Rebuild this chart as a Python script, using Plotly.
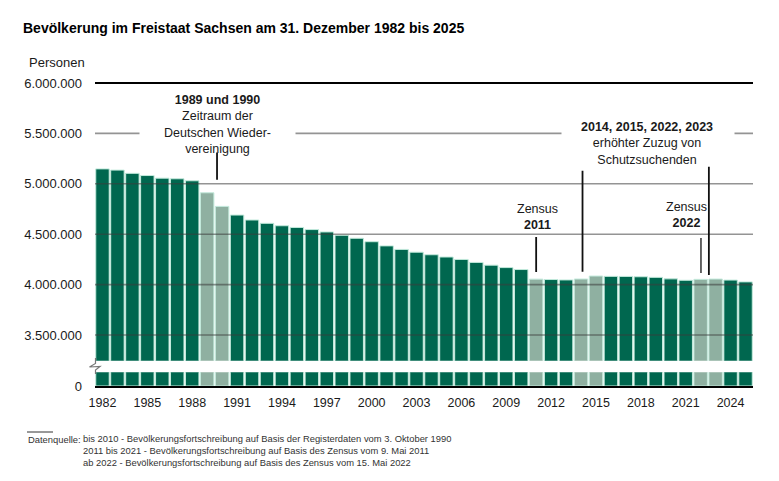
import plotly.graph_objects as go

# ---------------- data ----------------
years = list(range(1982, 2026))
population = [
    5148000, 5136000, 5104000, 5082000, 5056000, 5050000, 5030000,   # 1982-1988
    4911000, 4776000,                                                # 1989-1990
    4690000, 4641000, 4608000, 4584000, 4567000, 4546000,            # 1991-1996
    4522412, 4489415, 4459686, 4425581, 4384192, 4349059, 4321437,   # 1997-2003
    4296284, 4273754, 4249774, 4220200, 4192801, 4168732, 4149477,   # 2004-2010
    4054182, 4050204, 4046385, 4055274, 4084851, 4081783, 4081308,   # 2011-2017
    4077937, 4071971, 4056941, 4043002, 4052000, 4055000, 4045000,   # 2018-2024
    4027000,                                                         # 2025
]
highlight_years = [1989, 1990, 2011, 2014, 2015, 2022, 2023]
x_tick_years = list(range(1982, 2025, 3))
y_ticks_upper = [3500000, 4000000, 4500000, 5000000, 5500000, 6000000]
y_ticks_lower = [0]

title_text = "Bevölkerung im Freistaat Sachsen am 31. Dezember 1982 bis 2025"
unit_text = "Personen"
source_label = "Datenquelle:"
source_lines = [
    "bis 2010 - Bevölkerungsfortschreibung auf Basis der Registerdaten vom 3. Oktober 1990",
    "2011 bis 2021 - Bevölkerungsfortschreibung auf Basis des Zensus vom 9. Mai 2011",
    "ab 2022 - Bevölkerungsfortschreibung auf Basis des Zensus vom 15. Mai 2022",
]

# ---------------- style ----------------
DARK = "#00674f"
LIGHT = "#8fb0a1"
EDGE = "#c3eadc"
FONT = "Arial, Liberation Sans, sans-serif"
W, H = 779, 481
OFF = 8  # page offset of the figure in the browser window
# target plot area in window pixels: x 95..753, y 81..386
ML = 95 - OFF
MT = 81 - OFF
PW = 658
PH = 386 - 81
MR = W - ML - PW
MB = H - MT - PH

def px_to_paper(px, py):
    fx, fy = px - OFF, py - OFF
    return (fx - ML) / PW, (H - MB - fy) / PH

colors = [LIGHT if y in highlight_years else DARK for y in years]

def fmt(v):
    return f"{v:,}".replace(",", ".")

fig = go.Figure()
for ya in ["y", "y2"]:
    fig.add_trace(go.Bar(
        x=years, y=population, xaxis="x", yaxis=ya,
        marker=dict(color=colors, line=dict(color=EDGE, width=1)),
        hoverinfo="x+y", showlegend=False,
    ))

upper_bottom = px_to_paper(0, 360.7)[1]
lower_top = px_to_paper(0, 372.3)[1]

fig.update_layout(
    width=W, height=H,
    margin=dict(l=ML, r=MR, t=MT, b=MB),
    paper_bgcolor="white", plot_bgcolor="white",
    font=dict(family=FONT, size=12.5, color="#1a1a1a"),
    bargap=0.1,
    xaxis=dict(
        anchor="y2", range=[1981.5, 2025.5],
        tickvals=x_tick_years, ticktext=[str(v) for v in x_tick_years],
        showgrid=False, zeroline=False, showline=True, linecolor="black", linewidth=2,
        ticks="", ticklabelstandoff=4, tickfont=dict(size=12.5),
    ),
    yaxis=dict(
        domain=[upper_bottom, 1], range=[3245000, 6020000],
        tickvals=y_ticks_upper, ticktext=[fmt(v) for v in y_ticks_upper],
        showgrid=False, zeroline=False, showline=False, ticks="",
        ticklabelstandoff=12, tickfont=dict(size=13),
    ),
    yaxis2=dict(
        domain=[0, lower_top], range=[0, 140000],
        tickvals=y_ticks_lower, ticktext=[fmt(v) for v in y_ticks_lower],
        showgrid=False, zeroline=False, showline=False, ticks="",
        ticklabelstandoff=12, tickfont=dict(size=13),
    ),
)

shapes = []
# gridlines drawn above the bars (as in the reference)
for v in y_ticks_upper:
    top = v == max(y_ticks_upper)
    shapes.append(dict(
        type="line", xref="paper", yref="y", x0=0, x1=1, y0=v, y1=v,
        layer="above",
        line=dict(color="black" if top else "rgba(60,60,60,0.55)", width=2 if top else 1.6),
    ))

# leader lines of the annotations: (x, y_from, y_to, colour)
leader_lines = [
    (1989.66, 5040000, 5310000, "#111111"),
    (2011.0, 4125000, 4472000, "#111111"),
    (2014.1, 4128000, 5130000, "#111111"),
    (2022.02, 4115000, 4462000, "#555555"),
    (2022.55, 4095000, 5170000, "#111111"),
]
for lx, y0, y1, c in leader_lines:
    shapes.append(dict(type="line", xref="x", yref="y", x0=lx, x1=lx, y0=y0, y1=y1,
                       layer="above", line=dict(color=c, width=1.8)))

# axis break symbol
pts = [(95.5, 358), (95.5, 363.5), (89.5, 367), (100, 366.5), (95.5, 370), (95.5, 374)]
pp = [px_to_paper(a, b) for a, b in pts]
path = "M " + " L ".join(f"{a:.5f},{b:.5f}" for a, b in pp)
shapes.append(dict(type="path", xref="paper", yref="paper", path=path,
                   line=dict(color="#777777", width=1.2), layer="above"))
# footnote rule
fx0, fy = px_to_paper(27, 432)
fx1, _ = px_to_paper(53, 432)
shapes.append(dict(type="line", xref="paper", yref="paper", x0=fx0, x1=fx1, y0=fy, y1=fy,
                   line=dict(color="#333333", width=1)))
fig.update_layout(shapes=shapes)

ann = []
# white gaps in 5.5 Mio gridline behind annotation blocks
for gx, gw in [(1989.69, 155), (2018.48, 172)]:
    ann.append(dict(xref="x", yref="y", x=gx, y=5500000, text=" ", showarrow=False,
                    bgcolor="white", width=gw, height=6, borderpad=0))

ann.append(dict(xref="x", yref="y", x=1989.69, y=5588000, showarrow=False,
                text="<b>1989 und 1990</b><br>Zeitraum der<br>Deutschen Wieder-<br>vereinigung",
                font=dict(size=12.5), align="center", yanchor="middle"))
ann.append(dict(xref="x", yref="y", x=2011.12, y=4671000, showarrow=False,
                text="Zensus<br><b>2011</b>", font=dict(size=12.5), align="center", yanchor="middle"))
ann.append(dict(xref="x", yref="y", x=2021.02, y=4686000, showarrow=False,
                text="Zensus<br><b>2022</b>", font=dict(size=12.5), align="center", yanchor="middle"))
ann.append(dict(xref="x", yref="y", x=2018.41, y=5400000, showarrow=False,
                text="<b>2014, 2015, 2022, 2023</b><br>erhöhter Zuzug von<br>Schutzsuchenden",
                font=dict(size=12.5), align="center", yanchor="middle"))

# title and unit
tx, ty = px_to_paper(21, 28)
ann.append(dict(xref="paper", yref="paper", x=tx, y=ty, xanchor="left", yanchor="middle",
                text=f"<b>{title_text}</b>", showarrow=False, font=dict(size=14, color="black")))
ux, uy = px_to_paper(27, 62)
ann.append(dict(xref="paper", yref="paper", x=ux, y=uy, xanchor="left", yanchor="middle",
                text=unit_text, showarrow=False, font=dict(size=13)))

# footnote
sx, sy = px_to_paper(26, 439.5)
ann.append(dict(xref="paper", yref="paper", x=sx, y=sy, xanchor="left", yanchor="middle",
                text=source_label, showarrow=False, font=dict(size=9.4, color="#333333")))
bx, by = px_to_paper(81, 450.5)
ann.append(dict(xref="paper", yref="paper", x=bx, y=by, xanchor="left", yanchor="middle",
                text="<br>".join(source_lines), showarrow=False, align="left",
                font=dict(size=9.4, color="#333333")))

fig.update_layout(annotations=ann)
fig.write_html("out.html")
